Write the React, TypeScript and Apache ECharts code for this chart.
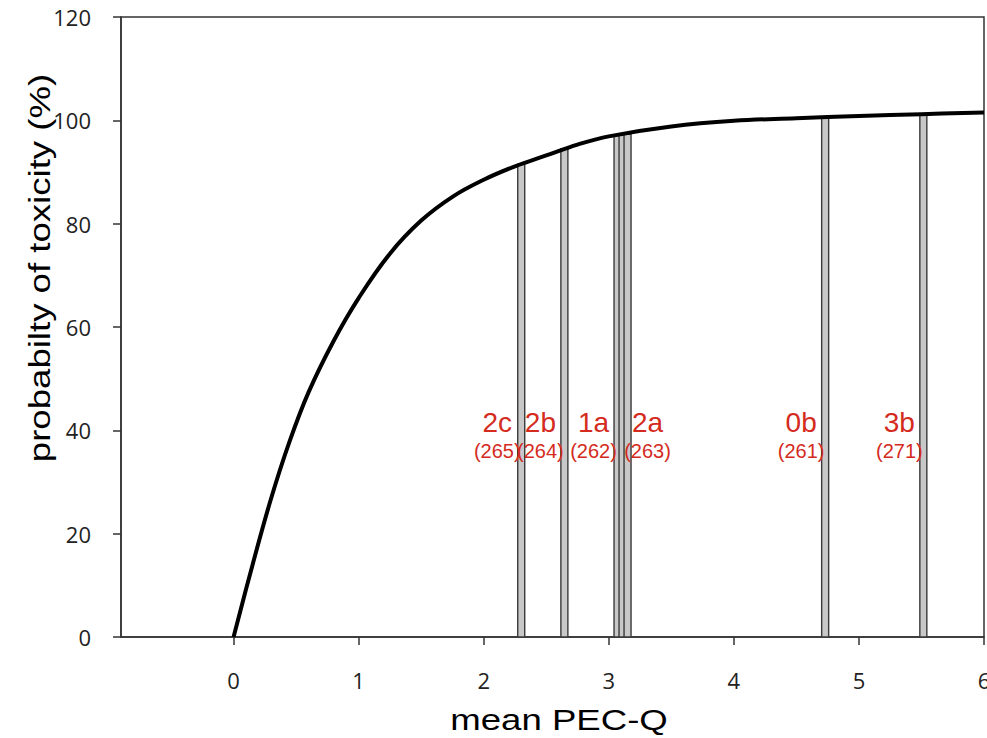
import React, { useEffect, useRef } from "react";
import * as echarts from "echarts";

// Fitted dose-response curve
const curveX = [0, 0.15, 0.3, 0.45, 0.6, 0.8, 1.0, 1.25, 1.5, 1.75, 2.0, 2.25, 2.5, 2.75, 3.0, 3.5, 4.0, 4.5, 5.0, 5.5, 6.0];
const curveY = [0, 13.8, 26.8, 38.0, 47.4, 57.3, 65.6, 74.2, 80.6, 85.2, 88.5, 91.1, 93.2, 95.3, 96.9, 98.8, 99.9, 100.4, 100.85, 101.2, 101.5];

// Sample markers (mean PEC-Q and the probability where they meet the curve)
const barX = [2.30, 2.645, 3.07, 3.11, 3.15, 4.73, 5.515];
const barTop = [91.5, 94.5, 97.1, 97.2, 97.3, 100.6, 101.2];
const barNames = ["2c", "2b", "1a", "", "2a", "0b", "3b"];
const barCodes = ["(265)", "(264)", "(262)", "", "(263)", "(261)", "(271)"];

const xTicks = [0, 1, 2, 3, 4, 5, 6];

const xTitle = "mean PEC-Q";
const yTitle = "probabilty of toxicity (%)";

const RED = "#d42b1e";
const SANS = '"Liberation Sans", Arial, sans-serif';
const TICKFONT = '"Open Sans", "Liberation Sans", sans-serif';

export default function App() {
  const ref = useRef<HTMLDivElement>(null);

  useEffect(() => {
    if (!ref.current) return;
    const chart = echarts.init(ref.current, undefined, { renderer: "svg" });

    const curveData = curveX.map((x, i) => [x, curveY[i]]);
    const barData = barX.map((x, i) => [x, barTop[i]]);

    chart.setOption({
      animation: false,
      backgroundColor: "#ffffff",
      grid: {
        left: 121,
        right: 3,
        top: 17,
        bottom: 101,
        outerBoundsMode: "none",
        containLabel: false,
        show: true,
        borderColor: "#333",
        borderWidth: 1.5,
        backgroundColor: "transparent",
      },
      xAxis: {
        type: "value",
        min: -0.9,
        max: 6,
        axisLine: { show: true, onZero: false, lineStyle: { color: "#333", width: 1.5 } },
        axisTick: { show: true, length: 8, customValues: xTicks, lineStyle: { color: "#333", width: 1.5 } },
        axisLabel: {
          customValues: xTicks,
          margin: 32,
          fontSize: 22,
          fontFamily: TICKFONT,
          color: "#222",
        },
        splitLine: { show: false },
      },
      yAxis: {
        type: "value",
        min: 0,
        max: 120,
        interval: 20,
        axisLine: { show: true, onZero: false, lineStyle: { color: "#333", width: 1.5 } },
        axisTick: { show: true, length: 8, lineStyle: { color: "#333", width: 1.5 } },
        axisLabel: {
          margin: 30,
          fontSize: 22,
          fontFamily: TICKFONT,
          color: "#222",
        },
        splitLine: { show: false },
      },
      series: [
        {
          type: "custom",
          z: 2,
          data: barData,
          encode: { x: 0, y: 1 },
          renderItem: (params: any, api: any) => {
            const idx = params.dataIndex;
            const x = api.value(0);
            const top = api.value(1);
            const base = api.coord([x, 0]);
            const tp = api.coord([x, top]);
            const w = 7;
            const children: any[] = [
              {
                type: "rect",
                shape: { x: base[0] - w / 2, y: tp[1], width: w, height: base[1] - tp[1] },
                style: { fill: "#c8c8c8", stroke: "#3a3a3a", lineWidth: 1.4 },
              },
            ];
            const name = barNames[idx];
            const code = barCodes[idx];
            if (name) {
              const dx = name === "2a" ? 20 : -24;
              const p1 = api.coord([x, 41.6]);
              const p2 = api.coord([x, 36.0]);
              children.push({
                type: "text",
                x: base[0] + dx,
                y: p1[1],
                z2: 10,
                style: {
                  text: name,
                  fill: RED,
                  fontSize: 28,
                  fontFamily: SANS,
                  align: "center",
                  verticalAlign: "middle",
                },
              });
              children.push({
                type: "text",
                x: base[0] + dx,
                y: p2[1],
                z2: 10,
                style: {
                  text: code,
                  fill: RED,
                  fontSize: 20,
                  fontFamily: SANS,
                  align: "center",
                  verticalAlign: "middle",
                },
              });
            }
            return { type: "group", children };
          },
        },
        {
          type: "line",
          z: 3,
          data: curveData,
          smooth: 0.4,
          showSymbol: false,
          symbol: "none",
          lineStyle: { color: "#000", width: 4 },
          clip: true,
        },
      ],
      graphic: [
        {
          type: "text",
          x: 559,
          y: 720,
          scaleX: 1.22,
          style: {
            text: xTitle,
            fontSize: 30,
            fontFamily: SANS,
            fill: "#000",
            align: "center",
            verticalAlign: "middle",
          },
        },
        {
          type: "text",
          x: 40,
          y: 268,
          rotation: Math.PI / 2,
          scaleX: 1.22,
          style: {
            text: yTitle,
            fontSize: 30,
            fontFamily: SANS,
            fill: "#000",
            align: "center",
            verticalAlign: "middle",
          },
        },
      ],
    });

    return () => {
      chart.dispose();
    };
  }, []);

  return (
    <div
      ref={ref}
      style={{ position: "absolute", left: 0, top: 0, width: 987, height: 738, background: "#fff" }}
    />
  );
}
